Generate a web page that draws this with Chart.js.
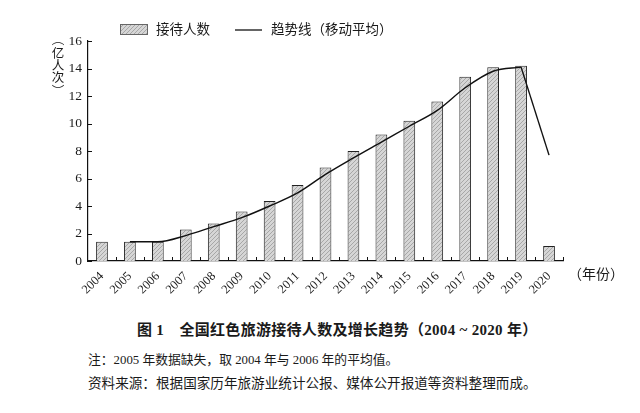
<!DOCTYPE html>
<html>
<head>
<meta charset="utf-8">
<script src="https://cdn.jsdelivr.net/npm/chart.js@4/dist/chart.umd.min.js"></script>
<style>
  body { margin: 0; background: #fff; }
  #wrap { position: relative; width: 640px; height: 413px; overflow: hidden;
          font-family: "Liberation Serif", "Noto Sans CJK SC", serif; color: #1a1a1a; }
  #chart { position: absolute; left: 0; top: 0; }
  .txt { position: absolute; white-space: nowrap; }
  #xunit { left: 568px; top: 263px; font-size: 14px; }
  #caption { left: 137px; top: 318px; font-size: 15px; font-weight: bold; letter-spacing: 0.3px; }
  #note { left: 88px; top: 349px; font-size: 12.8px; }
  #source { left: 88px; top: 372px; font-size: 13.6px; }
</style>
</head>
<body>
<div id="wrap">
  <canvas id="chart" width="640" height="300"></canvas>
  <div class="txt" id="xunit">（年份）</div>
  <div class="txt" id="caption">图 1　全国红色旅游接待人数及增长趋势（2004 ~ 2020 年）</div>
  <div class="txt" id="note">注：2005 年数据缺失，取 2004 年与 2006 年的平均值。</div>
  <div class="txt" id="source">资料来源：根据国家历年旅游业统计公报、媒体公开报道等资料整理而成。</div>
</div>
<script>
(function () {
    "use strict";

    // 数据：亿人次
    const YEARS = ["2004", "2005", "2006", "2007", "2008", "2009", "2010", "2011", "2012",
        "2013", "2014", "2015", "2016", "2017", "2018", "2019", "2020"];
    const VISITORS = [1.4, 1.4, 1.4, 2.3, 2.72, 3.6, 4.36, 5.52, 6.8,
        8.0, 9.2, 10.2, 11.6, 13.4, 14.1, 14.2, 1.1];
    // 趋势线（移动平均），2004 无值；2019→2020 为直线段
    const TREND = [null, 1.4, 1.4, 1.85, 2.5, 3.15, 4.0, 4.95, 6.3,
        7.5, 8.65, 9.8, 10.95, 12.6, 13.8, 14.1, null];
    const TREND_DROP = [null, null, null, null, null, null, null, null, null,
        null, null, null, null, null, null, 14.1, 7.7];
    const Y_TICKS = [0, 2, 4, 6, 8, 10, 12, 14, 16];
    const Y_TITLE = "（亿人次）";

    const SERIF = '"Liberation Serif", "Noto Sans CJK SC", serif';

    function makeHatch() {
        const c = document.createElement("canvas");
        c.width = 4; c.height = 4;
        const g = c.getContext("2d");
        g.fillStyle = "#d6d6d6";
        g.fillRect(0, 0, 4, 4);
        g.strokeStyle = "#a2a2a2";
        g.lineWidth = 0.9;
        g.beginPath();
        g.moveTo(0, 4); g.lineTo(4, 0);
        g.moveTo(-1, 1); g.lineTo(1, -1);
        g.moveTo(3, 5); g.lineTo(5, 3);
        g.stroke();
        return g.createPattern(c, "repeat");
    }

    const ctx = document.getElementById("chart").getContext("2d");
    const hatch = makeHatch();

    // 竖排的 y 轴标题：括号旋转 90°
    function drawYTitle(c) {
        const ys = [39.5, 53.5, 65.5, 77, 90.5];
        c.save();
        c.font = '12.5px "Noto Sans CJK SC", sans-serif';
        c.fillStyle = "#1a1a1a";
        c.textAlign = "center";
        c.textBaseline = "middle";
        Array.from(Y_TITLE).forEach((ch, i) => {
            c.save();
            c.translate(58, ys[i]);
            if (ch === "（" || ch === "）") { c.rotate(Math.PI / 2); }
            c.fillText(ch, 0, 0);
            c.restore();
        });
        c.restore();
    }

    // 向内的刻度线 + 图例
    const decor = {
        id: "decor",
        afterDatasetsDraw(chart) {
            const { ctx: c, scales: { x, y }, chartArea: a } = chart;
            c.save();
            c.strokeStyle = "#111";
            c.lineWidth = 1;
            c.beginPath();
            for (let i = 1; i <= YEARS.length; i++) {
                const px = Math.round(x.getPixelForValue(i - 0.5)) + 0.5;
                c.moveTo(px, a.bottom); c.lineTo(px, a.bottom - 4);
            }
            Y_TICKS.forEach(v => {
                const py = Math.round(y.getPixelForValue(v)) + 0.5;
                c.moveTo(a.left, py); c.lineTo(a.left + 4, py);
            });
            c.stroke();

            // 图例
            c.font = `13.5px ${SERIF}`;
            c.textBaseline = "middle";
            c.fillStyle = hatch;
            c.fillRect(120, 24, 28, 11);
            c.strokeStyle = "#666";
            c.strokeRect(120.5, 24.5, 27, 10);
            c.fillStyle = "#1a1a1a";
            c.fillText("接待人数", 156, 30);
            c.strokeStyle = "#111";
            c.lineWidth = 1.3;
            c.beginPath();
            c.moveTo(235, 30); c.lineTo(262, 30);
            c.stroke();
            c.fillText("趋势线（移动平均）", 271, 30);
            c.restore();

            drawYTitle(c);
        },
    };

    new Chart(ctx, {
        data: {
            labels: YEARS,
            datasets: [
                {
                    type: "bar",
                    label: "接待人数",
                    data: VISITORS,
                    backgroundColor: hatch,
                    borderColor: "#222",
                    borderWidth: 1,
                    barPercentage: 0.42,
                    categoryPercentage: 1,
                    order: 2,
                },
                {
                    type: "line",
                    label: "趋势线（移动平均）",
                    data: TREND,
                    borderColor: "#111",
                    borderWidth: 1.4,
                    pointRadius: 0,
                    cubicInterpolationMode: "monotone",
                    order: 1,
                },
                {
                    type: "line",
                    label: "drop",
                    data: TREND_DROP,
                    borderColor: "#111",
                    borderWidth: 1.4,
                    pointRadius: 0,
                    tension: 0,
                    order: 1,
                },
            ],
        },
        options: {
            responsive: false,
            animation: false,
            layout: { padding: { top: 41, right: 77, left: 0, bottom: 0 } },
            plugins: { legend: { display: false }, tooltip: { enabled: false } },
            scales: {
                x: {
                    offset: true,
                    grid: { display: false, drawTicks: false },
                    border: { display: true, color: "#111", width: 1.2 },
                    ticks: {
                        autoSkip: false, minRotation: 45, maxRotation: 45,
                        padding: 8, color: "#1a1a1a",
                        font: { family: SERIF, size: 12.5 },
                    },
                    afterFit: s => { s.height = 39; },
                },
                y: {
                    min: 0, max: 16,
                    grid: { display: false, drawTicks: false },
                    border: { display: true, color: "#111", width: 1.2 },
                    afterBuildTicks: s => { s.ticks = Y_TICKS.map(v => ({ value: v })); },
                    ticks: {
                        padding: 6, color: "#1a1a1a",
                        font: { family: SERIF, size: 13.5 },
                    },
                    afterFit: s => { s.width = 88; },
                },
            },
        },
        plugins: [decor],
    });
})();
</script>
</body>
</html>
